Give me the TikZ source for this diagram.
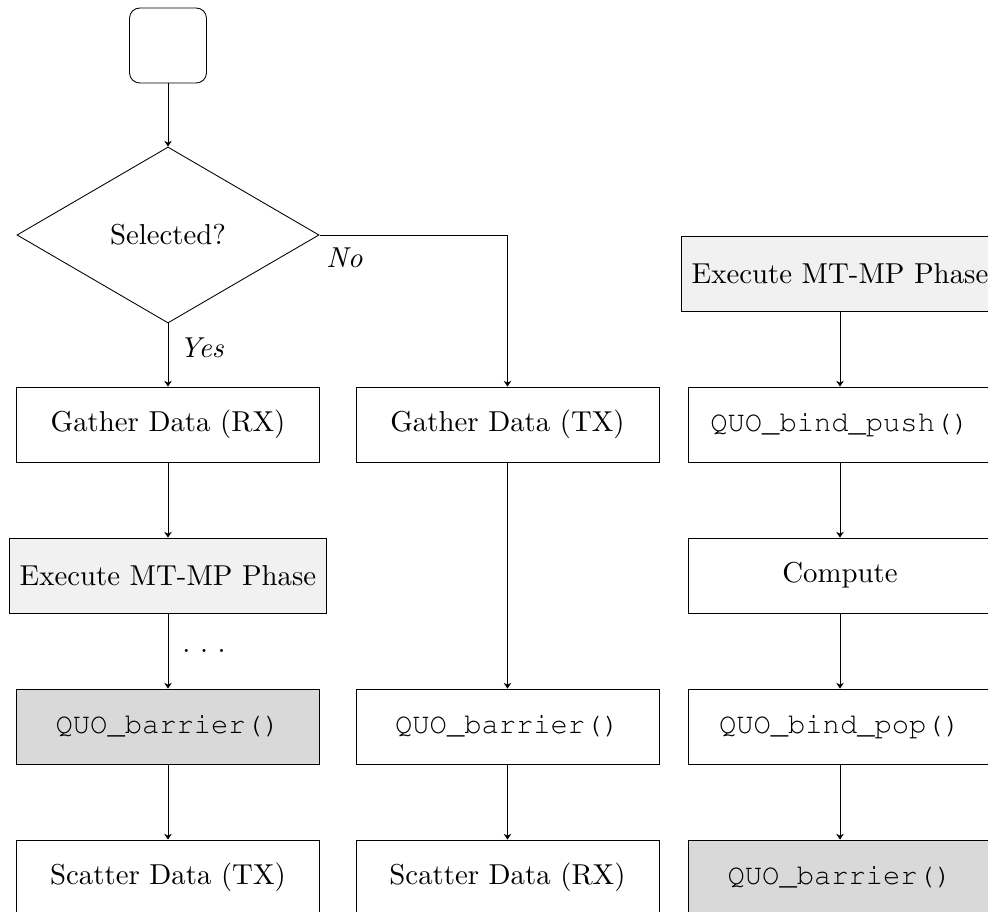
\documentclass[tikz,border=0pt]{standalone}
\usepackage[T1,TU]{fontenc}
\usetikzlibrary{shapes.geometric,arrows.meta}
\definecolor{phasefill}{gray}{0.945}
\definecolor{barrierfill}{gray}{0.85}
\newcommand{\codefont}[1]{{\fontencoding{T1}\fontfamily{pcr}\selectfont #1}}
\begin{document}
\begin{tikzpicture}[x=0.3472pt, y=-0.3472pt, line width=0.3pt,
  flow/.style={-{Stealth[length=2pt,width=2.6pt]}},
  stepbox/.style={draw, rectangle, minimum width=105.2pt, minimum height=26pt, inner sep=3.4pt},
  phasebox/.style={stepbox, fill=phasefill},
  barrierbox/.style={stepbox, fill=barrierfill},
  startbox/.style={draw, rectangle, rounded corners=3.5pt, minimum width=26.7pt, minimum height=26pt},
  decision/.style={draw, diamond, aspect=1.7, inner sep=0pt, minimum width=104.9pt, minimum height=61.1pt},
  branchlabel/.style={inner sep=0pt, anchor=base west, font=\itshape}]
\useasboundingbox (0,0) rectangle (988,912);
\clip (0,0) rectangle (988,912);

% start and decision
\node[startbox] (start) at (168,45.5) {};
\node[decision] (dec) at (168,235) {Selected?};

% left column: selected process
\node[stepbox]    (g1) at (168,424.5) {Gather Data (RX)};
\node[phasebox]   (e1) at (168,575.5) {Execute MT-MP Phase};
\node[barrierbox] (b1) at (168,726.5) {\codefont{QUO\_barrier()}};
\node[stepbox]    (s1) at (168,877.5) {Scatter Data (TX)};

% middle column: other processes
\node[stepbox] (g2) at (507.5,424.5) {Gather Data (TX)};
\node[stepbox] (b2) at (507.5,726.5) {\codefont{QUO\_barrier()}};
\node[stepbox] (s2) at (507.5,877.5) {Scatter Data (RX)};

% right column: inside the MT-MP phase
\node[phasebox]   (e3)   at (840,273.5) {Execute MT-MP Phase};
\node[stepbox]    (push) at (840,424.5) {\codefont{QUO\_bind\_push()}};
\node[stepbox]    (comp) at (840,575.5) {Compute};
\node[stepbox]    (pop)  at (840,726.5) {\codefont{QUO\_bind\_pop()}};
\node[barrierbox] (b3)   at (840,877.5) {\codefont{QUO\_barrier()}};

% connectors
\draw[flow] (start) -- (dec);
\draw[flow] (dec.south) -- (g1);
\draw[flow] (dec.east) -| (g2.north);
\draw[flow] (g1) -- (e1);
\draw[flow] (e1) -- (b1);
\draw[flow] (b1) -- (s1);
\draw[flow] (g2) -- (b2);
\draw[flow] (b2) -- (s2);
\draw[flow] (e3) -- (push);
\draw[flow] (push) -- (comp);
\draw[flow] (comp) -- (pop);
\draw[flow] (pop) -- (b3);

% labels
\node[branchlabel] (nolab)  at (326,268) {No};
\node[branchlabel] (yeslab) at (179,358) {Yes};
\node[inner sep=0pt, anchor=base west] (dots) at (182,652) {.\ .\ .};
\end{tikzpicture}
\end{document}
